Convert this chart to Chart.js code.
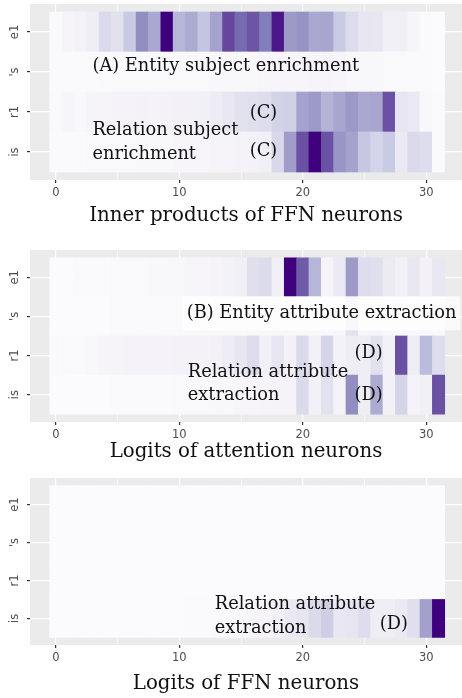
<!DOCTYPE html>
<html lang="en">
<head>
<meta charset="UTF-8">
<title>Neuron heatmaps</title>
<script src="https://cdn.jsdelivr.net/npm/chart.js@4"></script>
<style>
  body { margin: 0; background: #fff; }
  canvas { position: absolute; left: 0; }
</style>
</head>
<body>
<canvas id="c1" width="462" height="230" style="top:0"></canvas>
<canvas id="c2" width="462" height="236" style="top:230px"></canvas>
<canvas id="c3" width="462" height="232" style="top:466px"></canvas>
<script>
// rows top to bottom, 32 neuron columns
const rows = ['e1', "'s", 'r1', 'is'];
const xTicks = [0, 5, 10, 15, 20, 25, 30];

// (A)/(C) inner products of FFN neurons
const innerE1 = [0.02,0.06,0.08,0.12,0.25,0.2,0.32,0.55,0.45,1.0,0.4,0.44,0.34,0.47,0.78,0.68,0.74,0.62,0.93,0.5,0.53,0.45,0.46,0.32,0.24,0.18,0.17,0.1,0.1,0.05,0.02,0.01];
const innerS  = [0.02,0.02,0.02,0.02,0.03,0.03,0.03,0.03,0.03,0.03,0.03,0.03,0.03,0.04,0.04,0.04,0.04,0.05,0.05,0.05,0.05,0.06,0.06,0.05,0.04,0.04,0.04,0.03,0.03,0.02,0.02,0.01];
const innerR1 = [0.03,0.05,0.04,0.06,0.06,0.07,0.07,0.08,0.07,0.08,0.09,0.09,0.1,0.13,0.16,0.2,0.22,0.23,0.28,0.29,0.47,0.5,0.41,0.46,0.51,0.45,0.46,0.75,0.18,0.15,0.04,0.02];
const innerIs = [0.02,0.02,0.02,0.03,0.03,0.03,0.03,0.04,0.04,0.04,0.05,0.05,0.05,0.06,0.06,0.07,0.08,0.1,0.26,0.49,0.75,1.0,0.75,0.52,0.47,0.33,0.27,0.32,0.15,0.25,0.23,0.02];

// (B)/(D) logits of attention neurons
const attnE1 = [0.01,0.01,0.02,0.02,0.02,0.03,0.03,0.03,0.04,0.04,0.04,0.05,0.05,0.06,0.08,0.1,0.22,0.24,0.1,1.0,0.72,0.4,0.06,0.15,0.5,0.23,0.22,0.14,0.09,0.16,0.09,0.16];
const attnS  = [0.01,0.01,0.01,0.01,0.01,0.02,0.02,0.02,0.02,0.02,0.02,0.03,0.03,0.03,0.03,0.03,0.04,0.04,0.04,0.04,0.04,0.04,0.04,0.05,0.2,0.05,0.05,0.04,0.04,0.04,0.04,0.04];
const attnR1 = [0.02,0.03,0.03,0.04,0.06,0.06,0.07,0.07,0.07,0.07,0.08,0.08,0.08,0.09,0.13,0.17,0.24,0.1,0.18,0.09,0.25,0.09,0.27,0.08,0.13,0.12,0.2,0.09,0.75,0.12,0.38,0.23];
const attnIs = [0.01,0.01,0.01,0.01,0.01,0.02,0.02,0.02,0.02,0.02,0.03,0.03,0.03,0.04,0.04,0.05,0.05,0.06,0.07,0.07,0.25,0.09,0.2,0.07,0.55,0.12,0.44,0.09,0.27,0.07,0.1,0.75];

// (D) logits of FFN neurons
const ffnE1 = [0.01,0.01,0.01,0.01,0.01,0.01,0.01,0.01,0.01,0.01,0.01,0.01,0.01,0.01,0.01,0.01,0.01,0.01,0.01,0.01,0.01,0.01,0.01,0.01,0.01,0.01,0.01,0.01,0.01,0.01,0.01,0.01];
const ffnS  = [0.01,0.01,0.01,0.01,0.01,0.01,0.01,0.01,0.01,0.01,0.01,0.01,0.01,0.01,0.01,0.01,0.01,0.01,0.01,0.01,0.01,0.01,0.01,0.01,0.01,0.01,0.01,0.01,0.01,0.01,0.01,0.01];
const ffnR1 = [0.01,0.01,0.01,0.01,0.01,0.01,0.01,0.01,0.01,0.01,0.01,0.01,0.01,0.01,0.01,0.01,0.01,0.01,0.01,0.01,0.01,0.01,0.01,0.01,0.01,0.01,0.01,0.01,0.01,0.01,0.01,0.01];
const ffnIs = [0.005,0.005,0.005,0.005,0.005,0.005,0.005,0.005,0.01,0.01,0.01,0.02,0.02,0.03,0.03,0.04,0.05,0.06,0.1,0.15,0.18,0.25,0.3,0.16,0.18,0.23,0.12,0.12,0.15,0.22,0.48,1.0];

// brewer Purples
const purples = ['#fcfbfd','#efedf5','#dadaeb','#bcbddc','#9e9ac8','#807dba','#6a51a3','#54278f','#3f007d'];

function shade(v) {
  const t = Math.max(0, Math.min(1, v)) * 8;
  const i = Math.min(7, Math.floor(t));
  const f = t - i;
  const a = purples[i], b = purples[i + 1];
  const ch = k => {
    const p = parseInt(a.substr(k, 2), 16), q = parseInt(b.substr(k, 2), 16);
    return Math.round(p + (q - p) * f);
  };
  return `rgb(${ch(1)},${ch(3)},${ch(5)})`;
}

// ggplot grey panel behind the tiles
const panelBg = {
  id: 'panelBg',
  beforeDraw(chart) {
    const {ctx, chartArea: a} = chart;
    ctx.save();
    ctx.fillStyle = '#ebebeb';
    ctx.fillRect(a.left, a.top, a.right - a.left, a.bottom - a.top);
    ctx.restore();
  }
};

// text labels placed in data units
const notes = {
  id: 'notes',
  afterDatasetsDraw(chart, args, opts) {
    const {ctx, scales: {x, y}} = chart;
    ctx.save();
    (opts.items || []).forEach(n => {
      const px = x.getPixelForValue(n.x), py = y.getPixelForValue(n.y);
      ctx.font = opts.font;
      if (n.box) {
        const w = ctx.measureText(n.text).width;
        ctx.fillStyle = 'rgba(255,255,255,0.75)';
        ctx.fillRect(px - 4, py - 17, w + 8, 34);
      }
      ctx.fillStyle = '#111';
      ctx.textAlign = 'left';
      ctx.textBaseline = 'middle';
      ctx.fillText(n.text, px, py);
    });
    ctx.restore();
  }
};

function makeChart(id, series, title, axisH, padTop, items) {
  const data = [], colors = [];
  series.forEach((vals, r) => {
    vals.forEach((v, c) => {
      data.push({x: [c - 0.5, c + 0.5], y: r});
      colors.push(shade(v));
    });
  });
  const tickFont = {family: 'DejaVu Sans', size: 11.5};
  return new Chart(document.getElementById(id), {
    type: 'bar',
    data: {
      datasets: [{
        data: data,
        backgroundColor: colors,
        borderWidth: 0,
        barPercentage: 1,
        categoryPercentage: 1
      }]
    },
    options: {
      indexAxis: 'y',
      responsive: false,
      animation: false,
      layout: {padding: {top: padTop, right: 0, left: 0, bottom: 0}},
      plugins: {
        legend: {display: false},
        tooltip: {enabled: false},
        notes: {font: '17.8px "DejaVu Serif"', items: items}
      },
      scales: {
        x: {
          type: 'linear',
          min: -2.1,
          max: 32.9,
          afterBuildTicks: s => { s.ticks = xTicks.map(v => ({value: v})); },
          afterFit: s => { s.height = axisH; s.paddingLeft = 0; s.paddingRight = 0; },
          ticks: {
            autoSkip: false,
            maxRotation: 0,
            color: '#4d4d4d',
            font: tickFont,
            padding: 3,
            callback: v => (v % 10 === 0 ? String(v) : '')
          },
          grid: {
            color: '#ffffff',
            lineWidth: c => (c.tick && c.tick.value % 10 === 0 ? 1.2 : 0.6),
            tickColor: c => (c.tick && c.tick.value % 10 === 0 ? '#333333' : 'rgba(0,0,0,0)'),
            tickLength: 3
          },
          border: {display: false},
          title: {
            display: true,
            text: title,
            color: '#111',
            font: {family: 'DejaVu Serif', size: 19.8},
            padding: {top: 0, bottom: 2}
          }
        },
        y: {
          type: 'linear',
          reverse: true,
          min: -0.7,
          max: 3.7,
          offset: false,
          afterBuildTicks: s => { s.ticks = rows.map((_, i) => ({value: i})); },
          afterFit: s => { s.width = 30; s.paddingTop = 0; s.paddingBottom = 0; },
          ticks: {
            minRotation: 90,
            maxRotation: 90,
            crossAlign: 'center',
            color: '#4d4d4d',
            font: tickFont,
            padding: 5,
            callback: v => rows[v]
          },
          grid: {
            offset: false,
            color: '#ffffff',
            lineWidth: 1.2,
            tickColor: '#333333',
            tickLength: 3
          },
          border: {display: false}
        }
      }
    },
    plugins: [panelBg, notes]
  });
}

makeChart('c1', [innerE1, innerS, innerR1, innerIs], 'Inner products of FFN neurons', 50, 4, [
  {text: '(A) Entity subject enrichment', x: 2.96, y: 0.85},
  {text: 'Relation subject', x: 2.96, y: 2.45},
  {text: 'enrichment', x: 2.96, y: 3.05},
  {text: '(C)', x: 15.7, y: 2.03},
  {text: '(C)', x: 15.7, y: 2.98}
]);

makeChart('c2', [attnE1, attnS, attnR1, attnIs], 'Logits of attention neurons', 44, 20, [
  {text: '(B) Entity attribute extraction', x: 10.6, y: 0.92, box: true},
  {text: '(D)', x: 24.2, y: 1.94},
  {text: 'Relation attribute', x: 10.68, y: 2.43},
  {text: 'extraction', x: 10.68, y: 3.01},
  {text: '(D)', x: 24.2, y: 3.01}
]);

makeChart('c3', [ffnE1, ffnS, ffnR1, ffnIs], 'Logits of FFN neurons', 53, 12, [
  {text: 'Relation attribute', x: 12.87, y: 2.64},
  {text: 'extraction', x: 12.87, y: 3.26},
  {text: '(D)', x: 26.24, y: 3.16}
]);
</script>
</body>
</html>
